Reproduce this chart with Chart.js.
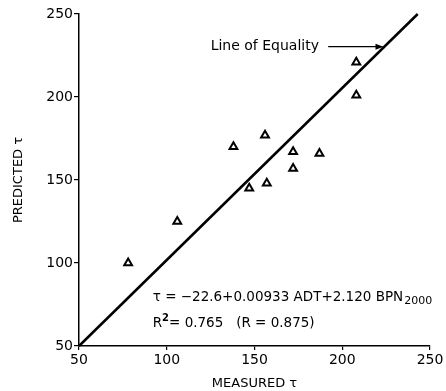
<!DOCTYPE html>
<html>
<head>
<meta charset="utf-8">
<script src="https://cdn.jsdelivr.net/npm/chart.js@4.4.1/dist/chart.umd.min.js"></script>
<style>
  html, body { margin: 0; padding: 0; background: #fff; }
  #wrap { width: 446px; height: 391px; }
</style>
</head>
<body>
<div id="wrap"><canvas id="c" width="446" height="391"></canvas></div>
<script>
// ---- data ----
const measured  = [78, 106, 138, 147, 156, 157, 172, 172, 187, 208, 208];
const predicted = [100, 125, 170, 145, 177, 148, 167, 157, 166, 221, 201];
const equalityX = [50, 243];
const equalityY = [50, 250];
const tickValues = [50, 100, 150, 200, 250];
const xTitle = 'MEASURED τ';
const yTitle = 'PREDICTED τ';
const lineLabel = 'Line of Equality';
const eqMain = 'τ = −22.6+0.00933 ADT+2.120 BPN';
const eqSub = '2000';
const r2Text = ['R', '2', '= 0.765   (R = 0.875)'];

const FONT = '"DejaVu Sans", sans-serif';

const annotations = {
  id: 'annotations',
  afterDraw(chart) {
    const {ctx, scales: {x, y}} = chart;
    ctx.save();
    ctx.fillStyle = '#000';
    ctx.strokeStyle = '#000';
    ctx.textBaseline = 'middle';
    ctx.textAlign = 'left';

    // Line of Equality label + arrow
    ctx.font = '14px ' + FONT;
    const lx = x.getPixelForValue(125), ly = y.getPixelForValue(230.3);
    ctx.fillText(lineLabel, lx, ly);
    const ax0 = x.getPixelForValue(192), ax1 = x.getPixelForValue(223.5);
    ctx.lineWidth = 1.2;
    ctx.beginPath(); ctx.moveTo(ax0, ly); ctx.lineTo(ax1 - 6, ly); ctx.stroke();
    ctx.beginPath();
    ctx.moveTo(ax1, ly); ctx.lineTo(ax1 - 8, ly - 3); ctx.lineTo(ax1 - 8, ly + 3); ctx.closePath();
    ctx.fill();

    // Equation
    ctx.font = '13.5px ' + FONT;
    const ex = x.getPixelForValue(92), ey = y.getPixelForValue(79.4);
    ctx.fillText(eqMain, ex, ey);
    const w = ctx.measureText(eqMain).width;
    ctx.font = '11px ' + FONT;
    ctx.fillText(eqSub, ex + w + 1, ey + 4);

    // R^2 line
    const ry = y.getPixelForValue(63.7);
    ctx.font = '13.5px ' + FONT;
    ctx.fillText(r2Text[0], ex, ry);
    let cx = ex + ctx.measureText(r2Text[0]).width;
    ctx.font = 'bold 10px ' + FONT;
    ctx.fillText(r2Text[1], cx, ry - 5);
    cx += ctx.measureText(r2Text[1]).width;
    ctx.font = '13.5px ' + FONT;
    ctx.fillText(r2Text[2], cx, ry);
    ctx.restore();
  }
};

new Chart(document.getElementById('c'), {
  type: 'scatter',
  data: {
    datasets: [
      {
        data: measured.map((m, i) => ({x: m, y: predicted[i]})),
        pointStyle: 'triangle',
        pointRadius: 4.5,
        pointBorderWidth: 2,
        pointBorderColor: '#000',
        pointBackgroundColor: '#fff',
        showLine: false
      },
      {
        type: 'line',
        data: equalityX.map((v, i) => ({x: v, y: equalityY[i]})),
        borderColor: '#000',
        borderWidth: 2.5,
        pointRadius: 0,
        fill: false,
        clip: false
      }
    ]
  },
  options: {
    responsive: false,
    animation: false,
    devicePixelRatio: 1,
    layout: { padding: { left: 0, right: 16, top: 14, bottom: 0 } },
    plugins: { legend: { display: false }, tooltip: { enabled: false } },
    scales: {
      x: {
        type: 'linear', min: 50, max: 250,
        afterBuildTicks(s) { s.ticks = tickValues.map(v => ({value: v})); },
        afterFit(s) { s.height = 45; },
        grid: { display: true, drawOnChartArea: false, drawTicks: true, tickLength: 4, color: '#000', lineWidth: 1.2 },
        border: { display: true, color: '#000', width: 1.5 },
        ticks: { color: '#000', font: { family: FONT, size: 14 }, padding: 2, maxRotation: 0 },
        title: { display: true, text: xTitle, color: '#000', font: { family: FONT, size: 13 }, padding: { top: 0, bottom: 0 } }
      },
      y: {
        type: 'linear', min: 50, max: 250,
        afterBuildTicks(s) { s.ticks = tickValues.map(v => ({value: v})); },
        afterFit(s) { s.width = 79; },
        grid: { display: true, drawOnChartArea: false, drawTicks: true, tickLength: 5, color: '#000', lineWidth: 1.2 },
        border: { display: true, color: '#000', width: 1.5 },
        ticks: { color: '#000', font: { family: FONT, size: 14 }, padding: 1 },
        title: { display: true, text: yTitle, color: '#000', font: { family: FONT, size: 13 }, padding: { top: 11, bottom: 0 } }
      }
    }
  },
  plugins: [annotations]
});
</script>
</body>
</html>
